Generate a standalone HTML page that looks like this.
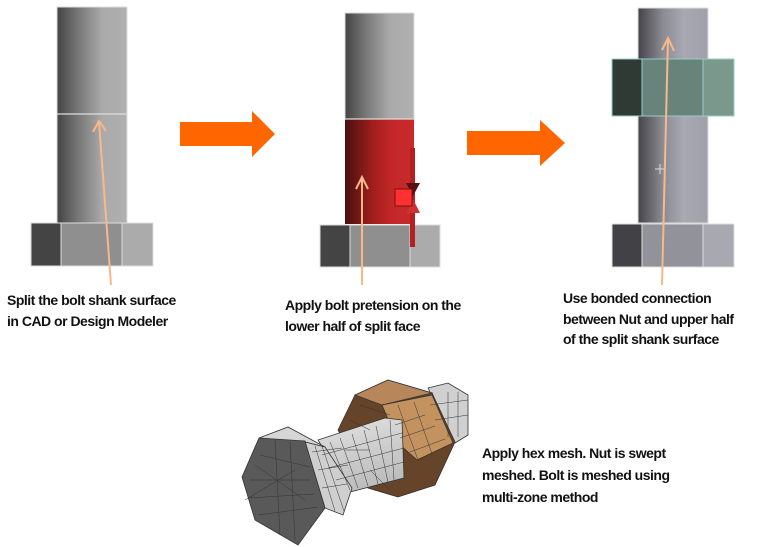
<!DOCTYPE html>
<html><head><meta charset="utf-8"><style>
body{margin:0;width:768px;height:547px;background:#fff;overflow:hidden;position:relative;font-family:"Liberation Sans",sans-serif}
.t{position:absolute;font-weight:bold;font-size:14px;line-height:20.5px;color:#111;letter-spacing:-0.5px;white-space:nowrap}
</style></head><body>
<svg width="768" height="547" style="position:absolute;left:0;top:0">
<defs>
<linearGradient id="g" x1="0" x2="1"><stop offset="0" stop-color="#444"/><stop offset="0.3" stop-color="#777"/><stop offset="0.65" stop-color="#aaa"/><stop offset="1" stop-color="#b0b0b0"/></linearGradient>
<linearGradient id="r" x1="0" x2="1"><stop offset="0" stop-color="#4a1010"/><stop offset="0.4" stop-color="#a01e1e"/><stop offset="0.7" stop-color="#c42828"/><stop offset="1" stop-color="#c82a2a"/></linearGradient>
<linearGradient id="b" x1="0" x2="1"><stop offset="0" stop-color="#444448"/><stop offset="0.35" stop-color="#8a8a92"/><stop offset="0.65" stop-color="#a8a8b2"/><stop offset="1" stop-color="#a0a0aa"/></linearGradient>
<linearGradient id="s" x1="0" y1="0" x2="0.3" y2="1"><stop offset="0" stop-color="#e2e2e2"/><stop offset="1" stop-color="#bdbdbd"/></linearGradient>
</defs>
<!-- bolt 1 -->
<rect x="57" y="7" width="70" height="216" fill="url(#g)" stroke="#ddd"/>
<line x1="57" y1="114" x2="127" y2="114" stroke="#ddd" stroke-width="1.2"/>
<rect x="31" y="223" width="30" height="43" fill="#444" stroke="#ddd"/>
<rect x="61" y="223" width="61" height="43" fill="#8f8f8f" stroke="#ddd"/>
<rect x="122" y="223" width="31" height="43" fill="#ababab" stroke="#ddd"/>
<!-- arrow 1 -->
<polygon points="180,122 252,122 252,111 275,134 252,157 252,146 180,146" fill="#ff6600"/>
<!-- bolt 2 -->
<rect x="345" y="13" width="69" height="106" fill="url(#g)" stroke="#ddd"/>
<rect x="345" y="119" width="69" height="105" fill="url(#r)"/>
<line x1="345" y1="119" x2="414" y2="119" stroke="#ddd" stroke-width="1.2"/>
<rect x="320" y="225" width="30" height="42" fill="#444" stroke="#ddd"/>
<rect x="350" y="225" width="60" height="42" fill="#8f8f8f" stroke="#ddd"/>
<rect x="410" y="225" width="30" height="42" fill="#ababab" stroke="#ddd"/>
<rect x="410" y="148" width="5" height="99" fill="#b42020"/>
<polygon points="406,183 420,183 413,196" fill="#5a1010"/>
<polygon points="406,213 420,213 413,199" fill="#d03030"/>
<rect x="395" y="189" width="17" height="17" fill="#ff3030" stroke="#7a1010"/>
<!-- arrow 2 -->
<polygon points="467,131 540,131 540,120 565,143 540,166 540,155 467,155" fill="#ff6600"/>
<!-- bolt 3 -->
<rect x="638" y="8" width="70" height="215" fill="url(#b)" stroke="#ddd"/>
<rect x="612" y="59" width="30" height="57" fill="#2f3a35" stroke="#9cc"/>
<rect x="642" y="59" width="61" height="57" fill="#68847a" stroke="#9cc"/>
<rect x="703" y="59" width="31" height="57" fill="#7a988b" stroke="#9cc"/>
<rect x="612" y="224" width="30" height="43" fill="#424246" stroke="#ddd"/>
<rect x="642" y="224" width="61" height="43" fill="#92929a" stroke="#ddd"/>
<rect x="703" y="224" width="31" height="43" fill="#a8a8b0" stroke="#ddd"/>
<path d="M655 169h10M660 164v10" stroke="#ddd" stroke-width="1"/>
<!-- peach pointers -->
<g stroke="#f7b98a" stroke-width="2" fill="none">
<path d="M111 285L99 122M93 132L99 121L106 131"/>
<path d="M362 285L362 178M356 189L362 177L368 189"/>
<path d="M662 285L668 38M662 50L668 38L674 51"/>
</g>
<!-- meshed bolt -->
<g stroke="#333" stroke-width="0.8">
<polygon points="428,388 448,383 468,395 468,435 455,443" fill="#d0d0d0"/>
<polygon points="338,430 355,395 388,380 432,393 455,442 435,485 398,497 368,488" fill="#654429"/>
<polygon points="355,395 388,380 432,393 382,405" fill="#b7875b"/>
<polygon points="382,405 432,395 453,443 417,460 398,443" fill="#c4925f"/>
<polygon points="318,440 385,418 402,420 404,478 350,492" fill="url(#s)"/>
<polygon points="259,438 288,427 325,447 305,442" fill="#d6d6d6"/>
<polygon points="305,442 325,447 352,488 343,515 325,508" fill="#cfcfcf"/>
<polygon points="242,477 259,438 305,441 325,508 298,545 255,520" fill="#595959"/>
</g>
<g stroke="#333" stroke-width="0.5" fill="none">
<path d="M330 442l20 48M340 438l18 50M352 434l16 52M364 430l14 54M376 426l12 56M390 420l4 60M322 455l80-22M328 468l76-20M336 480l68-18"/>
<path d="M312 452l30 -4M318 470l30 -5M322 488l25 -4M315 446l20 65M322 446l22 65"/>
<path d="M395 425l30-10M400 438l35-12M410 452l35-13M398 405l20 55M414 402l18 52"/>
<path d="M448 392v45M458 392v45M430 405l38-5M435 420l33-5"/>
<path d="M250 480l60 0M248 498l66 -4M258 515l60 -8M275 440l5 95M290 442l5 98M260 455l50 12M255 465l50 35M245 500l50 -30"/>
<path d="M360 405l30 10M350 420l20 10M370 470l20 20M345 450l25 0"/>
</g>
</svg>
<div class="t" style="left:7px;top:290px">Split the bolt shank surface<br>in CAD or Design Modeler</div>
<div class="t" style="left:285px;top:295px">Apply bolt pretension on the<br>lower half of split face</div>
<div class="t" style="left:563px;top:288px">Use bonded connection<br>between Nut and upper half<br>of the split shank surface</div>
<div class="t" style="left:482px;top:442px;line-height:22px">Apply hex mesh. Nut is swept<br>meshed. Bolt is meshed using<br>multi-zone method</div>
</body></html>
